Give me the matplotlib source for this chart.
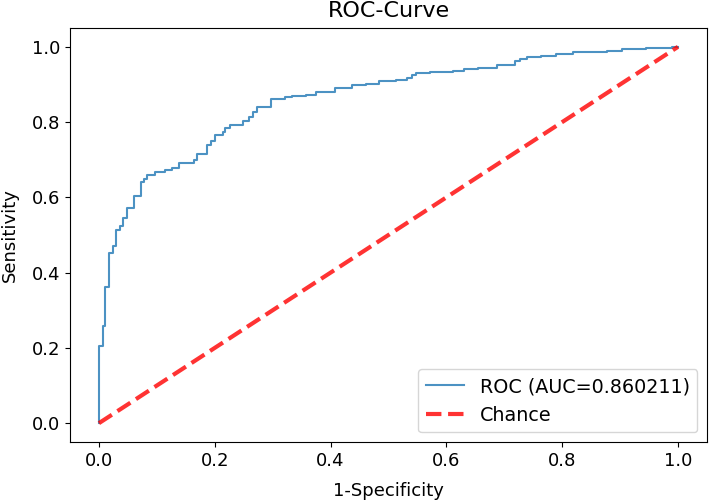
import matplotlib
matplotlib.use("Agg")
import matplotlib.pyplot as plt

# ROC corner points (fpr where the curve rises, tpr after the rise)
fpr = [0.0, 0.0, 0.0064, 0.011, 0.0167, 0.0236, 0.029, 0.036, 0.042, 0.048,
       0.060, 0.073, 0.078, 0.083, 0.097, 0.114, 0.126, 0.139, 0.164, 0.169,
       0.187, 0.193, 0.200, 0.214, 0.218, 0.227, 0.248, 0.260, 0.266, 0.273,
       0.298, 0.321, 0.333, 0.358, 0.375, 0.407, 0.437, 0.461, 0.484, 0.513,
       0.532, 0.540, 0.547, 0.571, 0.611, 0.631, 0.654, 0.688, 0.709, 0.719,
       0.727, 0.740, 0.763, 0.789, 0.818, 0.878, 0.904, 0.944, 0.990, 1.0]
tpr = [0.0, 0.204, 0.259, 0.361, 0.452, 0.470, 0.512, 0.523, 0.546, 0.573,
       0.603, 0.640, 0.650, 0.660, 0.668, 0.672, 0.678, 0.690, 0.700, 0.716,
       0.740, 0.749, 0.767, 0.774, 0.785, 0.791, 0.802, 0.814, 0.826, 0.840,
       0.862, 0.866, 0.870, 0.873, 0.881, 0.890, 0.898, 0.902, 0.909, 0.911,
       0.916, 0.925, 0.931, 0.934, 0.937, 0.941, 0.945, 0.951, 0.953, 0.962,
       0.968, 0.973, 0.976, 0.980, 0.986, 0.989, 0.993, 0.998, 1.0, 1.0]
auc_value = 0.860211

chance_x = [0, 1]
chance_y = [0, 1]

plt.rcParams['font.size'] = 13

fig = plt.figure(figsize=(7.09, 5.01), dpi=100)
ax = fig.add_axes([0.0987, 0.1178, 0.8984, 0.8263])

ax.plot(fpr, tpr, drawstyle='steps-post', lw=1.5, alpha=0.8,
        label='ROC (AUC=%f)' % auc_value)
ax.plot(chance_x, chance_y, linestyle='--', lw=3, color='r', alpha=0.8,
        label='Chance')

ax.set_title('ROC-Curve', fontsize=16, pad=8)
ax.set_xlabel('1-Specificity', labelpad=9)
ax.set_ylabel('Sensitivity', labelpad=9)
ax.legend(loc='lower right', prop={'size': 13.8})

fig.savefig('out.png', dpi=100)
